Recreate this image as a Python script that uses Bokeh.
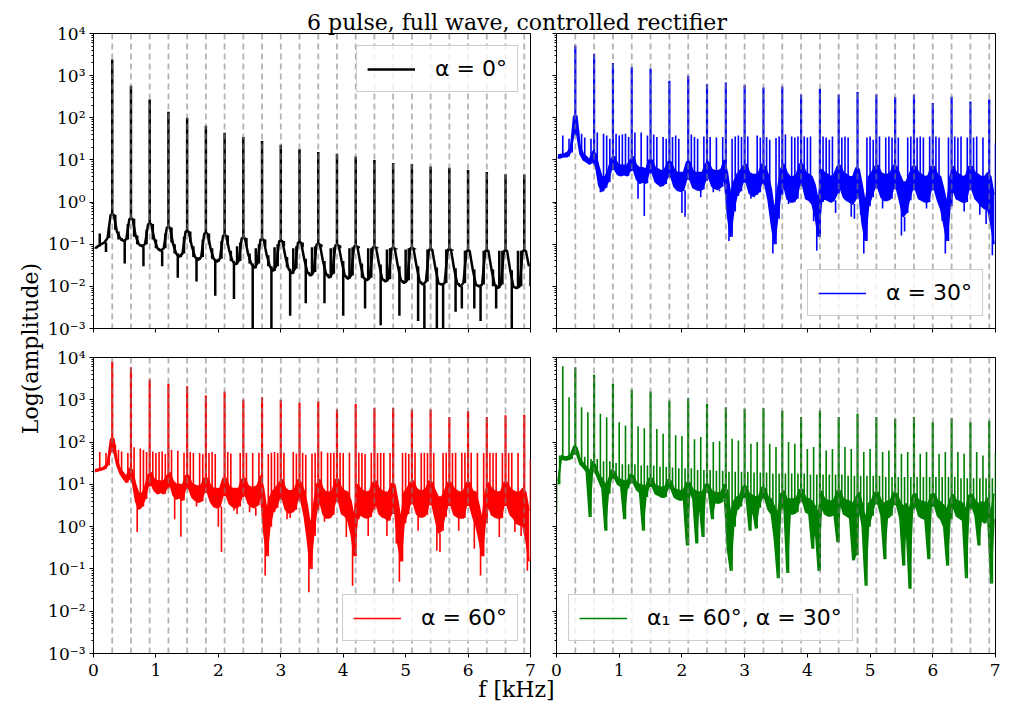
import numpy as np
from bokeh.plotting import figure
from bokeh.models import (Range1d, FixedTicker, CustomJSTickFormatter, Span, Legend,
                          LegendItem, Label, ColumnDataSource)
from bokeh.layouts import row, column
from bokeh.embed import file_html
from bokeh.resources import INLINE

# ---------------- text ----------------
title_text = "6 pulse, full wave, controlled rectifier"
x_label_text = "f [kHz]"
y_label_text = "Log(amplitude)"
legend_a = "α = 0°"
legend_b = "α = 30°"
legend_c = "α = 60°"
legend_d = "α₁ = 60°, α = 30°"

x_ticks = [0, 1, 2, 3, 4, 5, 6, 7]
y_ticks = [1e-3, 1e-2, 1e-1, 1e0, 1e1, 1e2, 1e3, 1e4]
y_minor = [m * 10.0 ** e for e in range(-3, 4) for m in range(2, 10)]

# harmonics of 300 Hz (dashed markers)
harmonic_khz = [0.3, 0.6, 0.9, 1.2, 1.5, 1.8, 2.1, 2.4, 2.7, 3.0, 3.3, 3.6, 3.9, 4.2,
                4.5, 4.8, 5.1, 5.4, 5.7, 6.0, 6.3, 6.6, 6.9]
# 50 Hz spectral bins and the points between them
bin_khz = [round(0.05 * i, 3) for i in range(141)]
mid_khz = [round(0.05 * i + 0.025, 3) for i in range(140)]

# ---------------- alpha = 0 (black) ----------------
top_a = [0.078, 0.085, 0.18, 0.1, 0.065, 0.25,
         2400, 0.22, 0.13, 0.12, 0.035, 0.3,
         575, 0.15, 0.1, 0.09, 0.03, 0.22,
         270, 0.13, 0.08, 0.07, 0.03, 0.18,
         140, 0.11, 0.06, 0.016, 0.06, 0.15,
         100, 0.11, 0.05, 0.013, 0.05, 0.13,
         65, 0.1, 0.045, 0.006, 0.045, 0.12,
         44, 0.095, 0.04, 0.005, 0.09, 0.11,
         35, 0.09, 0.035, 0.0008, 0.08, 0.1,
         28, 0.09, 0.03, 0.0008, 0.085, 0.1,
         23, 0.09, 0.028, 0.002, 0.08, 0.09,
         18, 0.085, 0.004, 0.02, 0.085, 0.09,
         15.5, 0.085, 0.004, 0.018, 0.08, 0.085,
         14, 0.08, 0.002, 0.016, 0.08, 0.085,
         12, 0.08, 0.016, 0.003, 0.08, 0.08,
         10, 0.08, 0.0012, 0.014, 0.075, 0.08,
         8.5, 0.075, 0.002, 0.013, 0.075, 0.08,
         8, 0.075, 0.0015, 0.012, 0.0009, 0.075,
         7, 0.075, 0.0009, 0.011, 0.0009, 0.075,
         6.5, 0.07, 0.0025, 0.011, 0.003, 0.07,
         5.8, 0.07, 0.003, 0.01, 0.0015, 0.07,
         5.2, 0.07, 0.01, 0.003, 0.07, 0.07,
         4.6, 0.07, 0.0009, 0.009, 0.07, 0.07,
         4.5, 0.07, 0.01]
lo_a = [0.08, 0.09, 0.1, 0.11, 0.14, 0.5,
        0.5, 0.2, 0.14, 0.12, 0.13, 0.4,
        0.4, 0.16, 0.1, 0.09, 0.1, 0.3,
        0.3, 0.13, 0.08, 0.07, 0.08, 0.25,
        0.25, 0.1, 0.06, 0.05, 0.06, 0.2,
        0.2, 0.09, 0.05, 0.042, 0.05, 0.18,
        0.18, 0.08, 0.045, 0.038, 0.045, 0.16,
        0.16, 0.07, 0.04, 0.033, 0.04, 0.14,
        0.14, 0.06, 0.035, 0.027, 0.035, 0.13,
        0.13, 0.055, 0.03, 0.023, 0.03, 0.12,
        0.12, 0.05, 0.026, 0.02, 0.026, 0.11,
        0.11, 0.045, 0.022, 0.018, 0.022, 0.1,
        0.1, 0.04, 0.02, 0.016, 0.02, 0.095,
        0.095, 0.04, 0.018, 0.015, 0.018, 0.09,
        0.09, 0.035, 0.016, 0.014, 0.016, 0.085,
        0.085, 0.033, 0.015, 0.013, 0.015, 0.08,
        0.08, 0.03, 0.014, 0.012, 0.014, 0.08,
        0.08, 0.03, 0.013, 0.011, 0.013, 0.075,
        0.075, 0.028, 0.012, 0.011, 0.012, 0.075,
        0.075, 0.027, 0.012, 0.01, 0.012, 0.07,
        0.07, 0.025, 0.011, 0.01, 0.011, 0.07,
        0.07, 0.025, 0.011, 0.009, 0.011, 0.07,
        0.07, 0.024, 0.01, 0.009, 0.01, 0.07,
        0.07, 0.03]

# ---------------- alpha = 30 (blue) ----------------
top_b = [12, 13, 38, 14, 32, 25,
         5200, 50, 42, 34, 10, 32,
         3300, 45, 1.7, 42, 38, 32,
         2000, 42, 38, 40, 42, 35,
         1600, 45, 1.2, 45, 0.47, 38,
         1450, 40, 35, 2.3, 35, 32,
         760, 35, 38, 32, 0.55, 0.45,
         1000, 40, 35, 32, 1.3, 36,
         630, 35, 1.7, 34, 1.8, 35,
         690, 0.12, 32, 36, 38, 35,
         590, 36, 1.2, 1.3, 38, 34,
         520, 35, 30, 0.06, 33, 36,
         550, 40, 0.9, 36, 34, 36,
         355, 36, 34, 36, 0.35, 0.07,
         490, 36, 34, 30, 36, 0.55,
         350, 34, 36, 34, 0.45, 0.4,
         410, 0.5, 0.06, 34, 36, 30,
         355, 36, 0.7, 34, 36, 34,
         310, 34, 0.16, 0.2, 34, 36,
         350, 34, 36, 34, 0.7, 36,
         225, 36, 34, 0.36, 0.06, 34,
         315, 36, 34, 36, 0.6, 34,
         245, 34, 36, 0.5, 34, 0.3,
         270, 0.055, 25]
lo_b = [11, 11.5, 12, 12, 15, 40,
        40, 14, 10, 9, 8, 9,
        7, 2.5, 1.8, 2.2, 3, 6,
        6, 4.5, 4.2, 4.5, 4.2, 5.5,
        6, 3.5, 2.8, 3, 2.8, 5,
        5, 3, 2.6, 2.4, 2.7, 4,
        4, 2.3, 1.9, 1.8, 1.9, 3.5,
        3.5, 2.2, 2, 1.9, 2, 3.2,
        4, 2.4, 2.1, 2, 2.3, 4,
        0.5, 0.15, 0.6, 1.4, 1.8, 3,
        3, 1.6, 1.4, 1.5, 1.7, 3,
        2.5, 1.1, 0.3, 0.1, 0.4, 1.5,
        2.5, 1.2, 1, 1, 1.2, 2.5,
        2.5, 1.2, 1.1, 0.9, 0.45, 0.15,
        1, 1.2, 1.1, 1, 1.1, 1.6,
        2.2, 1.3, 1.1, 1, 0.9, 1.2,
        1.5, 0.3, 0.12, 0.8, 1.3, 2.2,
        2.2, 1.3, 1.1, 1.1, 1.2, 2.2,
        2, 1, 0.45, 0.55, 1.1, 2,
        2, 1.2, 1.1, 1, 1, 2,
        2, 1.1, 0.7, 0.3, 0.12, 0.8,
        2, 1.2, 1.1, 1, 1, 2,
        2, 1.2, 1, 0.8, 0.7, 0.7,
        0.3, 0.1]
hi_b = [13, 13.5, 14, 15, 20, 110,
        110, 22, 14, 12, 10, 16,
        14, 7, 4, 4, 6, 11,
        12, 8, 7.5, 7.5, 7.5, 10,
        12, 7.5, 6.5, 6.5, 6, 10,
        10, 6.5, 6, 5.5, 6, 9,
        9, 6, 5, 5, 5, 9,
        9, 5.5, 5, 5, 5, 8,
        9, 6, 5.5, 5.5, 6, 10,
        5, 1.5, 3, 4.5, 5.5, 7,
        8, 5, 4.5, 4.5, 5, 8,
        7, 4.5, 2, 0.6, 2, 6,
        8, 5, 4, 4, 4.5, 8,
        8, 5, 4.5, 4, 2.5, 1,
        6, 5, 4.5, 4, 4.5, 7,
        7.5, 5, 4.5, 4, 4, 6.5,
        6, 2.5, 0.9, 4, 5, 7,
        7.5, 5, 4.5, 4.5, 5, 7.5,
        7, 4.5, 3, 3, 4.5, 7,
        7, 5, 4.5, 4, 4.2, 7,
        7, 4.5, 4, 2, 0.9, 4,
        7, 5, 4.5, 4, 4.2, 7,
        7, 5, 4.5, 4, 4, 5,
        4, 1.5]

# ---------------- alpha = 60 (red) ----------------
top_c = [21, 22, 58, 24, 55, 45,
         8000, 86, 65, 60, 16, 55,
         5900, 75, 0.75, 70, 65, 58,
         3000, 60, 55, 58, 60, 52,
         2400, 65, 1.5, 62, 0.58, 56,
         2100, 58, 55, 3, 55, 52,
         1260, 55, 58, 52, 1.0, 0.25,
         1570, 58, 54, 2.4, 2.0, 55,
         1020, 56, 2.2, 55, 1.8, 56,
         1150, 0.07, 52, 56, 58, 55,
         1000, 56, 1.5, 1.6, 58, 54,
         850, 56, 50, 0.028, 54, 56,
         910, 60, 1.3, 56, 55, 56,
         590, 56, 55, 0.57, 56, 0.04,
         800, 56, 55, 52, 0.6, 56,
         650, 55, 56, 55, 0.6, 55,
         650, 0.4, 0.05, 55, 56, 52,
         590, 56, 0.8, 55, 56, 55,
         590, 55, 0.27, 0.25, 55, 56,
         390, 55, 56, 0.8, 56, 56,
         540, 56, 0.3, 55, 0.07, 55,
         390, 56, 55, 56, 0.57, 55,
         430, 55, 56, 0.75, 55, 0.6,
         440, 0.09, 40]
lo_c = [20, 21, 22, 23, 28, 60,
        60, 28, 18, 14, 11, 14,
        11, 4, 2.6, 3, 4.5, 9,
        10, 7, 6, 6.5, 6, 8,
        10, 5.5, 4.5, 4.8, 4.2, 8,
        8, 5, 4.2, 3.8, 4, 6.5,
        6.5, 3.8, 3, 2.8, 3, 5.5,
        5.5, 3.5, 3, 2.8, 3, 5,
        6, 3.6, 3, 2.8, 3.2, 6,
        0.8, 0.2, 1, 2.2, 2.8, 4.5,
        4.5, 2.5, 2.1, 2.2, 2.5, 4.5,
        4, 1.8, 0.5, 0.1, 0.6, 2.4,
        4, 2, 1.6, 1.6, 1.9, 4,
        4, 2, 1.8, 1.4, 0.7, 0.2,
        1.5, 1.9, 1.7, 1.6, 1.7, 2.5,
        3.5, 2, 1.7, 1.6, 1.4, 2,
        2.4, 0.4, 0.15, 1.2, 2, 3.5,
        3.5, 2, 1.7, 1.7, 1.9, 3.5,
        3.2, 1.5, 0.7, 0.8, 1.7, 3.2,
        3.2, 1.9, 1.7, 1.6, 1.6, 3.2,
        3.2, 1.7, 1.1, 0.5, 0.2, 1.2,
        3.2, 1.9, 1.7, 1.6, 1.6, 3.2,
        3.2, 1.9, 1.6, 1.2, 1.1, 1.1,
        0.5, 0.15]
hi_c = [22, 23, 24, 26, 34, 120,
        120, 40, 24, 19, 15, 24,
        22, 10, 6, 6, 9, 17,
        19, 13, 12, 12, 12, 16,
        19, 12, 10, 10, 9.5, 16,
        16, 10.5, 9.5, 9, 9.5, 14,
        14, 9.5, 8, 8, 8, 14,
        14, 9, 8, 8, 8, 13,
        14, 9.5, 8.5, 8.5, 9.5, 16,
        8, 2.4, 5, 7, 8.5, 11,
        13, 8, 7, 7, 8, 13,
        11, 7, 3.2, 1, 3.2, 10,
        13, 8, 6.5, 6.5, 7, 13,
        13, 8, 7, 6.5, 4, 1.6,
        10, 8, 7, 6.5, 7, 11,
        12, 8, 7, 6.5, 6.5, 10.5,
        10, 4, 1.4, 6.5, 8, 11,
        12, 8, 7, 7, 8, 12,
        11, 7, 5, 5, 7, 11,
        11, 8, 7, 6.5, 6.8, 11,
        11, 7, 6.5, 3.2, 1.4, 6.5,
        11, 8, 7, 6.5, 6.8, 11,
        11, 8, 7, 6.5, 6.5, 8,
        6.5, 2.4]

# ---------------- alpha1 = 60, alpha = 30 (green) ----------------
top_d = [2.2, 48, 6200, 45, 1150, 60,
         5900, 60, 670, 45, 510, 40,
         3900, 40, 465, 35, 385, 35,
         2400, 32, 295, 30, 245, 30,
         1750, 30, 238, 28, 213, 28,
         1570, 28, 205, 26, 157, 26,
         960, 25, 144, 24, 140, 24,
         1100, 24, 117, 22, 131, 22,
         800, 22, 100, 21, 104, 21,
         670, 20, 120, 20, 109, 20,
         610, 20, 91, 19, 100, 19,
         640, 19, 91, 18, 76, 18,
         560, 18, 100, 18, 91, 18,
         390, 18, 69, 17, 76, 17,
         560, 17, 63, 17, 69, 17,
         390, 17, 76, 16, 69, 16,
         470, 16, 58, 16, 69, 16,
         390, 16, 58, 15, 63, 15,
         355, 15, 53, 15, 58, 15,
         390, 15, 53, 15, 58, 15,
         295, 15, 53, 15, 58, 15,
         365, 15, 58, 14, 53, 14,
         295, 14, 58, 14, 48, 14,
         325, 14, 54]
lo_d = [10, 40, 38, 38, 40, 55,
        50, 30, 25, 20, 1.7, 22,
        18, 12, 8, 0.8, 6, 14,
        14, 10, 9, 1.5, 8, 11,
        11, 7.5, 6.5, 0.8, 5, 9,
        9, 6, 5.5, 5, 5, 8,
        8, 5, 4.5, 4.2, 4.5, 0.36,
        7, 4.5, 0.4, 4, 0.57, 6.5,
        6.5, 1.5, 3.8, 3.6, 3.8, 6,
        0.3, 0.09, 1, 2.5, 3, 5,
        5, 0.8, 2.8, 0.9, 2.8, 4.8,
        4.5, 2.5, 2, 0.5, 0.06, 2.5,
        3.5, 0.08, 2, 2, 2.2, 4,
        4, 2.2, 2, 0.3, 1, 0.09,
        3, 2, 1.8, 1.8, 2, 0.43,
        3.8, 2, 1.8, 1.6, 0.16, 0.21,
        3, 1, 0.04, 1, 1.8, 3.5,
        3.5, 1.8, 0.17, 1.6, 1.8, 3.5,
        3.2, 1.6, 0.12, 1.2, 0.034, 2.5,
        3.2, 1.8, 1.6, 1.5, 0.17, 3,
        3.2, 1.8, 1.5, 1, 0.12, 1.5,
        3, 1.8, 1.6, 1.4, 0.06, 2.5,
        3, 1.8, 0.36, 1.5, 1.2, 2,
        0.045, 1.5]
hi_d = [12, 48, 45, 45, 50, 80,
        75, 40, 32, 26, 20, 35,
        28, 17, 14, 10, 12, 22,
        20, 14, 13, 12, 12, 17,
        16, 11, 10, 9.5, 9, 14,
        14, 9.5, 9, 8.5, 8.5, 13,
        12, 8, 7.5, 7, 7.5, 11,
        11, 7.5, 7, 6.5, 6.5, 10,
        10, 7, 6.5, 6.2, 6.5, 10,
        7, 2, 4, 5, 5.5, 9,
        9, 6, 5.5, 5, 5.2, 8.5,
        8, 5, 4.5, 3, 2, 6,
        7, 4.5, 4.5, 4.5, 4.8, 7.5,
        7.5, 4.8, 4.5, 4, 3, 2,
        7, 4.5, 4.2, 4, 4.3, 7,
        7, 4.5, 4.2, 4, 3.5, 5,
        6.5, 3.5, 1.5, 3.5, 4.2, 6.5,
        6.5, 4.2, 3.5, 4, 4.2, 6.5,
        6, 4, 3, 3.5, 2.5, 5.5,
        6, 4.2, 4, 3.8, 3.5, 5.8,
        6, 4.2, 3.8, 3.2, 2.5, 4.5,
        5.8, 4.2, 4, 3.6, 2.5, 5.5,
        5.8, 4.2, 3.5, 3.8, 3.6, 4.8,
        2, 6]

SERIF = "DejaVu Serif"
SANS = "DejaVu Sans"

Y_FMT = CustomJSTickFormatter(code="""
const sup = {"-": "\u207b", "0": "\u2070", "1": "\u00b9", "2": "\u00b2", "3": "\u00b3",
             "4": "\u2074", "5": "\u2075", "6": "\u2076", "7": "\u2077", "8": "\u2078", "9": "\u2079"};
const e = Math.round(Math.log10(tick));
return "10" + String(e).split("").map(c => sup[c]).join("");
""")


def make_panel(top, lo, hi, color, label, legend_loc, show_x, show_y,
               width, height, borders, thin):
    bl, br, bt, bb = borders
    p = figure(width=width, height=height, x_range=Range1d(0, 7),
               y_range=Range1d(1e-3, 1e4), y_axis_type="log",
               output_backend="svg", toolbar_location=None,
               min_border_left=bl, min_border_right=br,
               min_border_top=bt, min_border_bottom=bb)
    p.border_fill_alpha = 0
    p.background_fill_alpha = 0
    p.outline_line_color = "black"
    p.outline_line_width = 1
    p.outline_line_alpha = 1
    p.grid.visible = False

    lw = 2.5 if thin else 1.6
    if hi is not None:
        band = ColumnDataSource(dict(x=mid_khz, lo=lo, hi=hi))
        p.varea(x="x", y1="lo", y2="hi", source=band, fill_color=color)
        p.line("x", "hi", source=band, line_color=color, line_width=1.6)
        r_leg = p.line("x", "lo", source=band, line_color=color, line_width=1.6)
    else:
        band = ColumnDataSource(dict(x=mid_khz, lo=lo))
        r_leg = p.line("x", "lo", source=band, line_color=color, line_width=2.5)

    base = [lo[0]] + list(lo)
    widths = [(2.5 if thin else 2.2) if (i % 6 == 0 and i > 0) else lw
              for i in range(len(bin_khz))]
    spikes = ColumnDataSource(dict(x=bin_khz, y0=base, y1=top, w=widths))
    p.segment(x0="x", y0="y0", x1="x", y1="y1", source=spikes,
              line_color=color, line_width="w")

    for f in harmonic_khz:
        p.add_layout(Span(location=f, dimension="height", line_color="gray",
                          line_alpha=0.6, line_dash="6 4", line_width=1.8))

    # x axis
    xa = p.xaxis[0]
    xa.ticker = FixedTicker(ticks=x_ticks)
    xa.minor_tick_line_color = None
    xa.major_tick_out = 4
    xa.major_tick_in = 0
    xa.axis_line_color = "black"
    xa.major_tick_line_color = "black"
    if show_x:
        xa.major_label_text_font = SERIF
        xa.major_label_text_font_size = "17px"
        xa.major_label_text_color = "black"
        xa.major_label_standoff = 6
    else:
        xa.formatter = CustomJSTickFormatter(code="return '';")
        xa.major_label_text_font_size = "0px"
        xa.major_label_standoff = 0

    # y axis
    ya = p.yaxis[0]
    ya.ticker = FixedTicker(ticks=y_ticks, minor_ticks=y_minor)
    ya.major_tick_out = 4
    ya.major_tick_in = 0
    ya.minor_tick_out = 2
    ya.minor_tick_in = 0
    ya.axis_line_color = "black"
    ya.major_tick_line_color = "black"
    ya.minor_tick_line_color = "black"
    if show_y:
        ya.formatter = Y_FMT
        ya.major_label_text_font = SERIF
        ya.major_label_text_font_size = "17px"
        ya.major_label_text_color = "black"
        ya.major_label_standoff = 4
    else:
        ya.formatter = CustomJSTickFormatter(code="return '';")
        ya.major_label_text_font_size = "0px"
        ya.major_label_standoff = 0

    leg = Legend(items=[LegendItem(label=label, renderers=[r_leg])],
                 location=legend_loc, label_text_font=SANS,
                 label_text_font_size="22px", label_text_color="black",
                 glyph_width=48, glyph_height=22, label_height=22,
                 label_standoff=20, padding=10, margin=12, spacing=0,
                 border_line_color="#cccccc", border_line_width=1,
                 border_line_alpha=1, background_fill_color="white",
                 background_fill_alpha=0.8)
    p.add_layout(leg)
    return p


# page origin is the top-left corner of the window
W_Y = 45
W_L, W_R = 91 - W_Y + 439 + 13, 457
H_T, H_B = 319, 15 + 296 + 30
tl = make_panel(top_a, lo_a, None, "black", legend_a, "top_right", False, True,
                W_L, H_T, (91 - W_Y, 13, 10, 14), True)
tr = make_panel(top_b, lo_b, hi_b, "blue", legend_b, "bottom_right", False, False,
                W_R, H_T, (13, 5, 10, 14), False)
bl = make_panel(top_c, lo_c, hi_c, "red", legend_c, "bottom_right", True, True,
                W_L, H_B, (91 - W_Y, 13, 15, 30), False)
br = make_panel(top_d, lo_d, hi_d, "green", legend_d, "bottom_left", True, False,
                W_R, H_B, (13, 5, 15, 30), False)


def text_fig(w, h, margin=None):
    kw = {} if margin is None else {"margin": margin}
    f = figure(width=w, height=h, x_range=Range1d(0, w), y_range=Range1d(0, h),
               output_backend="svg", toolbar_location=None, title=None,
               x_axis_location=None, y_axis_location=None, min_border=0, **kw)
    f.grid.visible = False
    f.outline_line_color = None
    f.border_fill_alpha = 0
    f.background_fill_alpha = 0
    return f


TITLE_H = 40
title_fig = text_fig(1000, TITLE_H)
title_fig.add_layout(Label(x=516.5, y=TITLE_H - 22, text=title_text, text_font=SERIF,
                           text_font_size="22px", text_align="center",
                           text_baseline="middle", text_color="black"))

ylab_fig = text_fig(W_Y, H_T + H_B)
ylab_fig.add_layout(Label(x=30, y=H_T + H_B - (348 - 23), text=y_label_text,
                          text_font=SERIF, text_font_size="22px", text_align="center",
                          text_baseline="middle", angle=90, angle_units="deg",
                          text_color="black"))

XLAB_TOP = 673
XLAB_H = 712 - XLAB_TOP
xlab_fig = text_fig(1000, XLAB_H, margin=(XLAB_TOP - (23 + H_T + H_B), 0, 0, 0))
xlab_fig.add_layout(Label(x=516, y=XLAB_H - (689 - XLAB_TOP), text=x_label_text,
                          text_font=SERIF, text_font_size="22px", text_align="center",
                          text_baseline="middle", text_color="black"))

grid = column(row(tl, tr), row(bl, br))
middle = row(ylab_fig, grid, margin=(23 - TITLE_H, 0, 0, 0))
layout = column(title_fig, middle, xlab_fig)

open("out.html", "w").write(file_html(layout, INLINE))
